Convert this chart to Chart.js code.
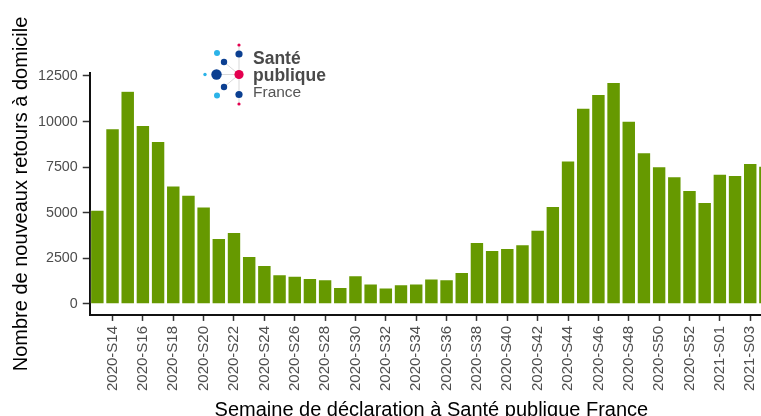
<!DOCTYPE html>
<html>
<head>
<meta charset="utf-8">
<script src="https://cdn.jsdelivr.net/npm/chart.js@4.4.1/dist/chart.umd.min.js"></script>
<style>
  html, body { margin: 0; padding: 0; background: #fff; }
  #wrap { width: 761px; height: 416px; overflow: hidden; }
</style>
</head>
<body>
<div id="wrap"><canvas id="retours-canvas" width="778" height="422"></canvas></div>
<script>
// weekly new home returns after hospitalisation
const semaines = [
    '2020-S13', '2020-S14', '2020-S15', '2020-S16', '2020-S17', '2020-S18', '2020-S19', '2020-S20',
    '2020-S21', '2020-S22', '2020-S23', '2020-S24', '2020-S25', '2020-S26', '2020-S27', '2020-S28',
    '2020-S29', '2020-S30', '2020-S31', '2020-S32', '2020-S33', '2020-S34', '2020-S35', '2020-S36',
    '2020-S37', '2020-S38', '2020-S39', '2020-S40', '2020-S41', '2020-S42', '2020-S43', '2020-S44',
    '2020-S45', '2020-S46', '2020-S47', '2020-S48', '2020-S49', '2020-S50', '2020-S51', '2020-S52',
    '2020-S53', '2021-S01', '2021-S02', '2021-S03', '2021-S04'
];
const retours = [
    5150, 9610, 11670, 9790, 8910, 6470, 5970, 5320,
    3600, 3930, 2610, 2120, 1610, 1530, 1400, 1330,
    910, 1550, 1100, 880, 1060, 1100, 1370, 1330,
    1730, 3380, 2940, 3050, 3250, 4050, 5350, 7850,
    10740, 11490, 12150, 10030, 8290, 7530, 6980, 6230,
    5570, 7120, 7050, 7710, 7560
];
const yTicks = [0, 2500, 5000, 7500, 10000, 12500];

const FONT = "'Liberation Sans', Arial, sans-serif";

// Santé publique France logo, dots + wordmark
const logoDots = [
    { x: 239, y: 45, r: 1.6, c: '#e4004f' },
    { x: 239, y: 54, r: 3.6, c: '#0b3f91' },
    { x: 217, y: 53, r: 3, c: '#2bb3e8' },
    { x: 224, y: 62, r: 3.2, c: '#0b3f91' },
    { x: 205, y: 74.5, r: 1.7, c: '#2bb3e8' },
    { x: 216.5, y: 74.5, r: 5.2, c: '#0b3f91' },
    { x: 239, y: 74.5, r: 4.6, c: '#e4004f' },
    { x: 224, y: 87, r: 3.2, c: '#0b3f91' },
    { x: 217, y: 95.5, r: 3, c: '#2bb3e8' },
    { x: 239, y: 94.5, r: 3.6, c: '#0b3f91' },
    { x: 239, y: 104, r: 1.6, c: '#e4004f' }
];

const logoPlugin = {
    id: 'logo',
    afterDraw(chart) {
        const ctx = chart.ctx;
        ctx.save();
        ctx.strokeStyle = '#d9d9d9';
        ctx.lineWidth = 1;
        ctx.beginPath();
        ctx.moveTo(239, 45); ctx.lineTo(239, 104);
        ctx.moveTo(239, 74.5); ctx.lineTo(224, 62);
        ctx.moveTo(239, 74.5); ctx.lineTo(216.5, 74.5);
        ctx.moveTo(239, 74.5); ctx.lineTo(224, 87);
        ctx.stroke();
        logoDots.forEach(d => {
            ctx.fillStyle = d.c;
            ctx.beginPath();
            ctx.arc(d.x, d.y, d.r, 0, Math.PI * 2);
            ctx.fill();
        });
        ctx.fillStyle = '#4a4a4a';
        ctx.textBaseline = 'alphabetic';
        ctx.font = `bold 17.5px ${FONT}`;
        ctx.fillText('Santé', 253, 64);
        ctx.fillText('publique', 253, 80.5);
        ctx.fillStyle = '#555';
        ctx.font = `15.5px ${FONT}`;
        ctx.fillText('France', 253, 97);
        ctx.restore();
    }
};

const ctx = document.getElementById('retours-canvas');

new Chart(ctx, {
    type: 'bar',
    data: {
        labels: semaines,
        datasets: [{
            label: 'Nouveaux retours à domicile',
            data: retours,
            backgroundColor: '#669900',
            borderColor: 'rgba(255,255,255,0.55)',
            borderWidth: 0.6,
            categoryPercentage: 0.9,
            barPercentage: 1
        }]
    },
    options: {
        responsive: false,
        animation: false,
        devicePixelRatio: 1,
        layout: { padding: { left: 9, right: 5, top: 73, bottom: 0 } },
        plugins: {
            legend: { display: false },
            tooltip: { enabled: false }
        },
        scales: {
            x: {
                offset: true,
                grid: {
                    offset: false,
                    drawOnChartArea: false,
                    drawTicks: true,
                    tickLength: 6,
                    tickWidth: 1.5,
                    tickColor: '#333'
                },
                border: { display: true, color: '#111', width: 2 },
                afterBuildTicks(scale) {
                    scale.ticks = scale.ticks.filter(t => t.value % 2 === 1);
                },
                ticks: {
                    autoSkip: false,
                    minRotation: 90,
                    maxRotation: 90,
                    padding: 5,
                    color: '#4d4d4d',
                    font: { family: FONT, size: 15 }
                },
                title: {
                    display: true,
                    text: 'Semaine de déclaration à Santé publique France',
                    color: '#000',
                    padding: { top: 2, bottom: 0 },
                    font: { family: FONT, size: 20 }
                }
            },
            y: {
                min: -603,
                max: 12664,
                grid: {
                    drawOnChartArea: false,
                    drawTicks: true,
                    tickLength: 7,
                    tickWidth: 1.5,
                    tickColor: '#333'
                },
                border: { display: true, color: '#111', width: 2 },
                afterBuildTicks(scale) {
                    scale.ticks = yTicks.map(v => ({ value: v }));
                },
                ticks: {
                    padding: 5,
                    color: '#4d4d4d',
                    font: { family: FONT, size: 14.3 },
                    callback: v => String(v)
                },
                title: {
                    display: true,
                    text: 'Nombre de nouveaux retours à domicile',
                    color: '#000',
                    padding: { top: 0, bottom: 0 },
                    font: { family: FONT, size: 20 }
                }
            }
        }
    },
    plugins: [logoPlugin]
});
</script>
</body>
</html>
